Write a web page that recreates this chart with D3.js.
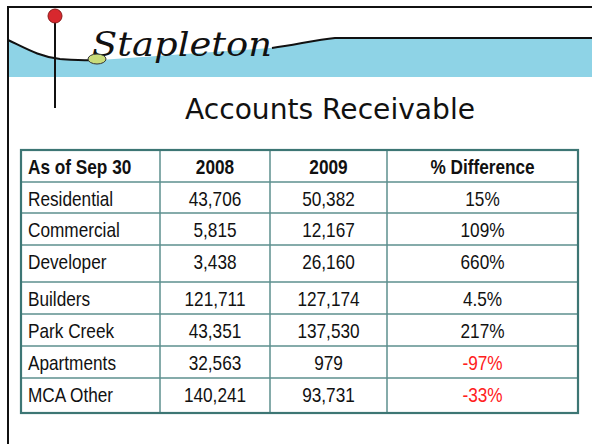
<!DOCTYPE html>
<html><head><meta charset="utf-8">
<script src="https://cdn.jsdelivr.net/npm/d3@7"></script>
<style>
html,body{margin:0;padding:0;background:#fff;}
svg{display:block;}
</style></head>
<body>
<svg id="c" width="592" height="444"></svg>
<script>
const headers = ["As of Sep 30", "2008", "2009", "% Difference"];
const categories = ["Residential","Commercial","Developer","Builders","Park Creek","Apartments","MCA Other"];
const values2008 = [43706, 5815, 3438, 121711, 43351, 32563, 140241];
const values2009 = [50382, 12167, 26160, 127174, 137530, 979, 93731];
const pctDiff = ["15%","109%","660%","4.5%","217%","-97%","-33%"];
const pctNegative = [false,false,false,false,false,true,true];

// layout
const colEdges = [21, 160, 270, 387, 578];
const rowHeights = [32, 31, 32, 37, 32, 32, 32, 35];
const tableTop = 150;

const svg = d3.select("#c");
const fontT = "'Liberation Sans',Arial,sans-serif";

// header band
const band = svg.append("g");
band.append("path")
  .attr("d", "M8,40 C25,48 40,57 60,59 C75,60 88,61 100,60 L270,48 C295,45 315,40 335,38 L592,38 L592,77 L8,77 Z")
  .attr("fill", "#8ed3e6");
band.append("path")
  .attr("d", "M8,40 C25,48 40,57 60,59 C75,60 88,61 100,60")
  .attr("fill","none").attr("stroke","#111").attr("stroke-width",2);
band.append("path")
  .attr("d", "M272,48 C295,45 315,40 335,38 L592,38")
  .attr("fill","none").attr("stroke","#111").attr("stroke-width",2);
band.append("text")
  .attr("x", 92).attr("y", 56)
  .attr("font-family","'DejaVu Serif',serif").attr("font-style","italic")
  .attr("font-size", 33).attr("fill","#111")
  .attr("textLength", 180).attr("lengthAdjust","spacingAndGlyphs")
  .text("Stapleton");
band.append("ellipse").attr("cx",97).attr("cy",59).attr("rx",9).attr("ry",5)
  .attr("fill","#c9dc7a").attr("stroke","#333").attr("stroke-width",1);

// slide frame
svg.append("line").attr("x1",8).attr("x2",592).attr("y1",7).attr("y2",7).attr("stroke","#111").attr("stroke-width",2);
svg.append("line").attr("x1",8).attr("x2",8).attr("y1",6).attr("y2",444).attr("stroke","#111").attr("stroke-width",2);

// pin
svg.append("line").attr("x1",55).attr("x2",55).attr("y1",16).attr("y2",108).attr("stroke","#111").attr("stroke-width",2);
svg.append("circle").attr("cx",55).attr("cy",16).attr("r",7).attr("fill","#d8282e").attr("stroke","#8a1a1a").attr("stroke-width",1);

// title
svg.append("text").attr("x", 330).attr("y", 119).attr("text-anchor","middle")
  .attr("font-family","'DejaVu Sans',sans-serif").attr("font-size", 28).attr("fill","#111")
  .attr("textLength", 290).attr("lengthAdjust","spacingAndGlyphs")
  .text("Accounts Receivable");

// table
const rowEdges = [tableTop];
rowHeights.forEach(h => rowEdges.push(rowEdges[rowEdges.length-1] + h));
const fmt = d3.format(",");
const rows = [headers].concat(categories.map((c,i) => [c, fmt(values2008[i]), fmt(values2009[i]), pctDiff[i]]));

const tbl = svg.append("g");
for (let i = 1; i < rowEdges.length - 1; i++) {
  tbl.append("line").attr("x1", colEdges[0]).attr("x2", colEdges[4]).attr("y1", rowEdges[i]).attr("y2", rowEdges[i])
    .attr("stroke", "#5c8f8e").attr("stroke-width", 1.5);
}
for (let j = 1; j < colEdges.length - 1; j++) {
  tbl.append("line").attr("x1", colEdges[j]).attr("x2", colEdges[j]).attr("y1", rowEdges[0]).attr("y2", rowEdges[rowEdges.length-1])
    .attr("stroke", "#5c8f8e").attr("stroke-width", 1.5);
}
tbl.append("rect").attr("x", colEdges[0]).attr("y", rowEdges[0])
  .attr("width", colEdges[4]-colEdges[0]).attr("height", rowEdges[rowEdges.length-1]-rowEdges[0])
  .attr("fill","none").attr("stroke","#3d7674").attr("stroke-width", 2.2);

rows.forEach((r, i) => {
  const yBase = rowEdges[i] + 24;
  r.forEach((t, j) => {
    const isFirst = j === 0;
    const neg = i > 0 && j === 3 && pctNegative[i-1];
    const x = isFirst ? colEdges[0] + 7 : (colEdges[j] + colEdges[j+1]) / 2;
    tbl.append("g").attr("transform", `translate(${x},${yBase}) scale(0.82,1)`)
      .append("text")
      .attr("text-anchor", isFirst ? "start" : "middle")
      .attr("font-family", fontT)
      .attr("font-size", 21)
      .attr("font-weight", i === 0 ? "bold" : "normal")
      .attr("fill", neg ? "#ff2020" : "#111")
      .text(t);
  });
});
</script>
</body></html>
